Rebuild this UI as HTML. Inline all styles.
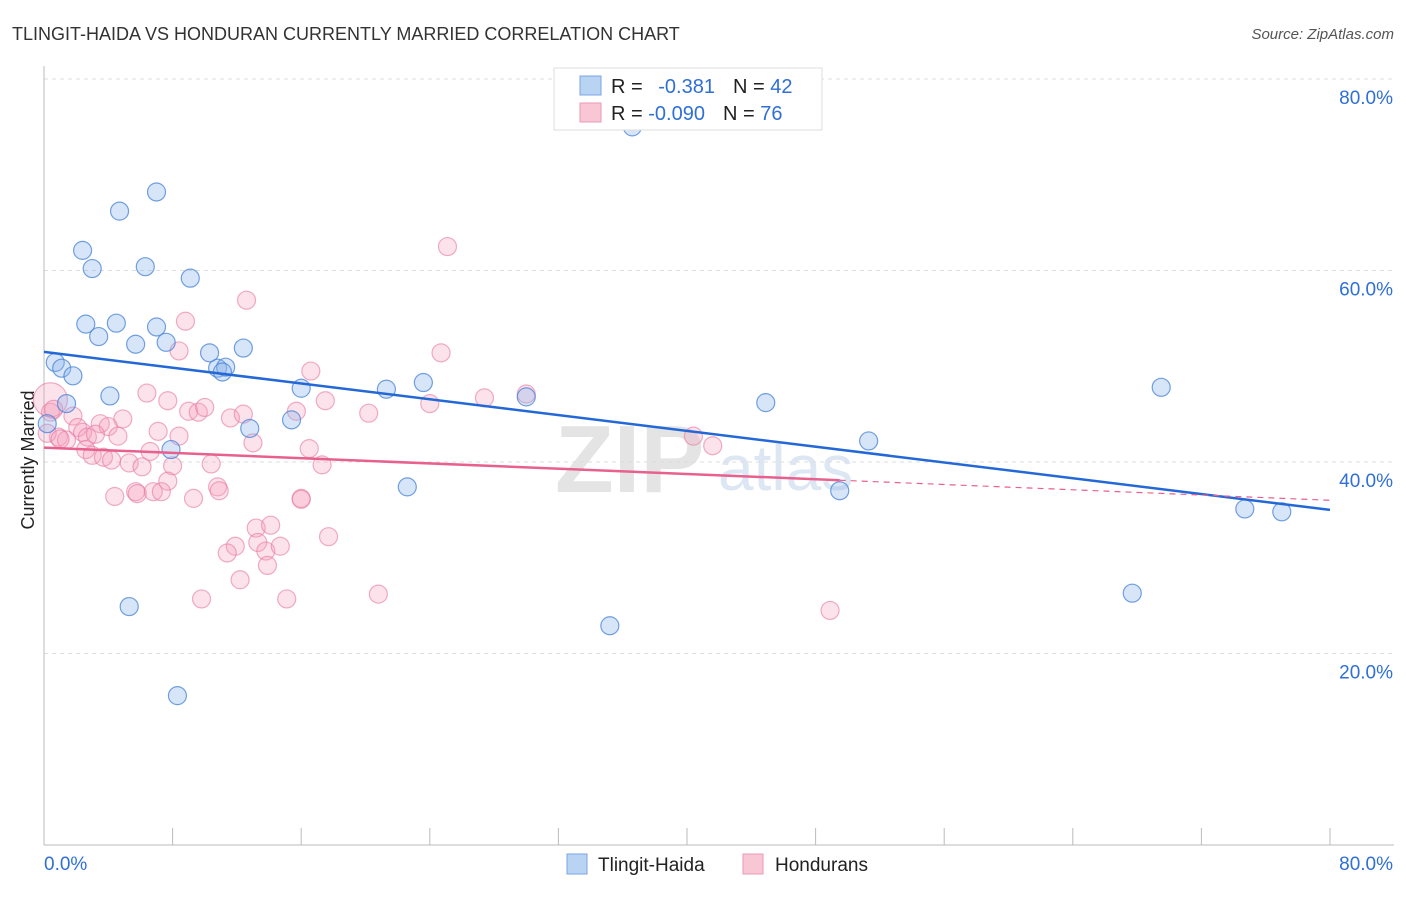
<!DOCTYPE html>
<html><head><meta charset="utf-8"><style>
body{margin:0;background:#fff;font-family:"Liberation Sans",sans-serif;}
svg text{font-family:"Liberation Sans",sans-serif;}
</style></head><body>
<svg id="c" width="1406" height="892" xmlns="http://www.w3.org/2000/svg">
<text x="12" y="40" font-size="18" fill="#333">TLINGIT-HAIDA VS HONDURAN CURRENTLY MARRIED CORRELATION CHART</text>
<text x="1394" y="39" font-size="15" fill="#555" font-style="italic" text-anchor="end">Source: ZipAtlas.com</text>
<text x="34" y="460" font-size="18" fill="#222" text-anchor="middle" transform="rotate(-90 34 460)">Currently Married</text>
<text x="555" y="492" font-size="96" fill="#e4e4e4" font-family="Liberation Serif" font-weight="bold">ZIP</text>
<text x="718" y="490" font-size="64" fill="#dde6f3">atlas</text>
<g id="grid"></g><g id="axes"></g><g id="pts"></g><g id="lines"></g>
<g>
<rect x="554" y="68" width="268" height="62" fill="#fff" stroke="#ddd"/>
<rect x="580" y="76" width="21" height="19" fill="#b9d3f3" stroke="#7aa6e0"/>
<rect x="580" y="103" width="21" height="19" fill="#f9c6d6" stroke="#ec9ab5"/>
<text x="611" y="93" font-size="20" fill="#222">R = <tspan fill="#2f6fd6" dx="10">-0.381</tspan><tspan fill="#222" dx="18">N = </tspan><tspan fill="#2f6fd6">42</tspan></text>
<text x="611" y="120" font-size="20" fill="#222">R = <tspan fill="#2f6fd6">-0.090</tspan><tspan fill="#222" dx="18">N = </tspan><tspan fill="#2f6fd6">76</tspan></text>
</g>
<g>
<rect x="567" y="854" width="20" height="20" fill="#b9d3f3" stroke="#7aa6e0"/>
<text x="598" y="871" font-size="19" fill="#222">Tlingit-Haida</text>
<rect x="743" y="854" width="20" height="20" fill="#f9c6d6" stroke="#ec9ab5"/>
<text x="775" y="871" font-size="19" fill="#222">Hondurans</text>
</g>
</svg>
<script>
const blueX=[0.7,1.1,1.8,1.4,0.2,2.4,3.0,4.7,7.0,6.3,9.1,2.6,3.4,4.5,5.7,7.0,7.6,10.3,12.4,10.8,11.3,11.1,4.1,12.8,7.9,15.4,16.0,21.3,23.6,30.0,22.6,5.3,8.3,36.6,35.2,44.9,51.3,49.5,69.5,67.7,74.7,77.0];
const blueY=[50.4,49.8,49.0,46.1,44.0,62.1,60.2,66.2,68.2,60.4,59.2,54.4,53.1,54.5,52.3,54.1,52.5,51.4,51.9,49.8,49.9,49.4,46.9,43.5,41.3,44.4,47.7,47.6,48.3,46.8,37.4,24.9,15.6,75.0,22.9,46.2,42.2,37.0,47.8,26.3,35.1,34.8];
const pinkX=[12.6,8.8,8.4,16.6,6.4,7.7,9.0,9.6,10.0,11.6,12.4,15.7,17.5,20.2,4.9,3.5,4.0,1.8,2.1,2.4,0.4,0.4,0.9,1.4,2.7,3.2,4.6,7.1,8.4,13.0,16.5,17.3,6.6,2.6,3.0,3.7,4.2,5.3,6.1,8.0,10.4,7.7,4.4,5.7,5.8,6.8,7.3,9.3,10.8,10.9,16.0,16.0,13.2,14.1,11.9,11.4,13.3,13.8,14.7,13.9,17.7,12.2,9.8,15.1,20.8,25.1,24.7,24.0,27.4,30.0,40.4,41.6,48.9,0.2,1.0,0.6];
const pinkY=[56.9,54.7,51.6,49.5,47.2,46.4,45.3,45.2,45.7,44.6,45.0,45.3,46.4,45.1,44.5,44.0,43.7,44.8,43.6,43.1,45.2,46.5,42.6,42.3,42.6,42.9,42.7,43.2,42.7,42.0,41.4,39.7,41.1,41.3,40.7,40.5,40.2,39.9,39.5,39.6,39.8,38.0,36.4,36.9,36.7,36.9,36.9,36.2,37.4,37.0,36.2,36.1,33.1,33.4,31.2,30.5,31.6,30.7,31.2,29.2,32.2,27.7,25.7,25.7,26.2,62.5,51.4,46.1,46.7,47.1,42.7,41.7,24.5,43.0,42.4,45.5];
const blueTrend=[51.5,35.0];
const pinkTrend=[41.5,36.0];
const pinkSolidEnd=49.5;
const yTicks=[20,40,60,80];
const yTickLabels=["20.0%","40.0%","60.0%","80.0%"];
const xTickLabels=["0.0%","80.0%"];

const NS="http://www.w3.org/2000/svg";
const X0=44,X1=1330,Y0=845,PXY=9.575;
const sx=v=>X0+v*(X1-X0)/80, sy=v=>Y0-v*PXY;
function mk(tag,attrs,parent){const e=document.createElementNS(NS,tag);for(const k in attrs)e.setAttribute(k,attrs[k]);document.getElementById(parent).appendChild(e);return e;}

yTicks.forEach((t,i)=>{
  const g=mk('line',{x1:X0,x2:1394,y1:sy(t),y2:sy(t),stroke:'#ddd','stroke-dasharray':'4,4'},'grid');
  
  
  const l=mk('text',{x:1393,y:sy(t)+25,'font-size':19,fill:'#2f6fd6','text-anchor':'end'},'grid');
  l.textContent=yTickLabels[i];
  
  
});
const ax=mk('line',{x1:X0,x2:X0,y1:66,y2:Y0,stroke:'#bbb'},'axes');


const bx=mk('line',{x1:X0,x2:1394,y1:Y0,y2:Y0,stroke:'#bbb'},'axes');


for(let i=0;i<=10;i++){const v=i*8;const t=mk('line',{x1:sx(v),x2:sx(v),y1:828,y2:Y0,stroke:'#bbb'},'axes');

}
const xl0=mk('text',{x:44,y:870,'font-size':19,fill:'#2f6fd6'},'axes');xl0.textContent=xTickLabels[0];


const xl1=mk('text',{x:1393,y:870,'font-size':19,fill:'#2f6fd6','text-anchor':'end'},'axes');xl1.textContent=xTickLabels[1];



pinkX.forEach((v,i)=>{const r=(i==21)?17:9;const c=mk('circle',{cx:sx(v),cy:sy(pinkY[i]),r:r,fill:'rgba(244,160,190,0.3)',stroke:'rgba(232,120,160,0.6)','stroke-width':1.2},'pts');

});
blueX.forEach((v,i)=>{const c=mk('circle',{cx:sx(v),cy:sy(blueY[i]),r:9,fill:'rgba(140,180,235,0.35)',stroke:'rgba(70,130,215,0.75)','stroke-width':1.2},'pts');

});

const bl=mk('line',{x1:sx(0),y1:sy(blueTrend[0]),x2:sx(80),y2:sy(blueTrend[1]),stroke:'#2368d6','stroke-width':2.5},'lines');


const pAt=v=>pinkTrend[0]+(pinkTrend[1]-pinkTrend[0])*v/80;
const pl=mk('line',{x1:sx(0),y1:sy(pAt(0)),x2:sx(pinkSolidEnd),y2:sy(pAt(pinkSolidEnd)),stroke:'#e8608e','stroke-width':2.5},'lines');


const pd=mk('line',{x1:sx(pinkSolidEnd),y1:sy(pAt(pinkSolidEnd)),x2:sx(80),y2:sy(pAt(80)),stroke:'#e8608e','stroke-width':1.2,'stroke-dasharray':'6,5'},'lines');


</script>
</body></html>
